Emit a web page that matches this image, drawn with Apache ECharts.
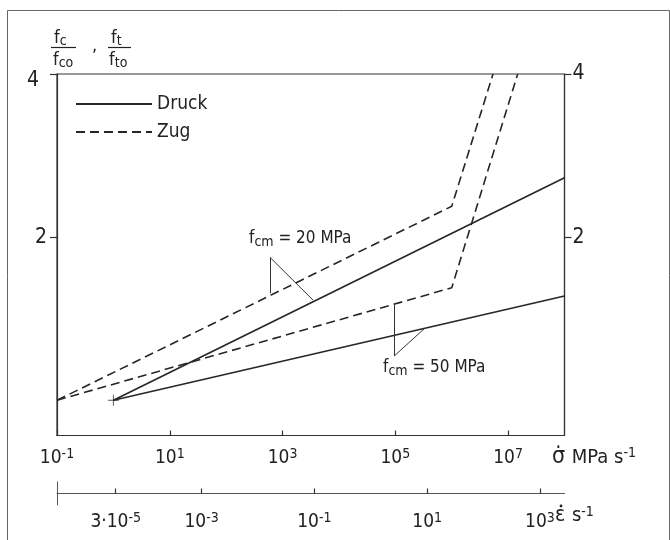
<!DOCTYPE html>
<html><head><meta charset="utf-8">
<script src="https://cdn.jsdelivr.net/npm/echarts@6/dist/echarts.min.js"></script>
<style>html,body{margin:0;padding:0;background:#fff}#c{width:670px;height:540px}</style>
</head><body><div id="c"></div>
<script>
const FONT = "'Liberation Sans Narrow','DejaVu Sans Condensed','Roboto Condensed','Noto Sans',sans-serif";
const INK = '#222';

// stress rate (MPa/s) vs strength ratio f/f0
const druck20 = [[1, 1], [1e8, 2.575]];
const druck50 = [[1, 1], [1e8, 1.558]];
const zug20 = [[0.1, 1], [1e6, 2.28], [5.4e6, 4]];
const zug50 = [[0.1, 1], [1e6, 1.613], [1.48e7, 4]];
const startMark = [[1, 1]];

// tick values
const stressTicks = [0.1, 10, 1e3, 1e5, 1e7];
const strainTicks = [3e-5, 1e-3, 1e-1, 10, 1e3];
const ratioTicks = [2, 4];
const E_MOD = 3.67e4; // stress rate / strain rate relation of the two scales

// annotation leaders (data coordinates)
const leader20 = [[[600, 1.835], [600, 1.576]], [[600, 1.835], [3483, 1.53]]];
const leader50 = [[[95500, 1.504], [95500, 1.207]], [[95500, 1.207], [330000, 1.357]]];

function powLabel(v) {
  const e = Math.round(Math.log10(v));
  const m = v / Math.pow(10, e);
  const mant = Math.abs(m - 1) < 1e-6 ? '' : (Math.round(m * 10) / 10) + '·';
  return '{b|' + mant + '10}{s|' + e + '}';
}
const supRich = {
  b: {fontFamily: FONT, fontSize: 19, color: INK},
  s: {fontFamily: FONT, fontSize: 14, color: INK, padding: [0, 0, 8, 0]}
};

function mkLeader(segs) {
  return segs.map(s => [{coord: s[0]}, {coord: s[1]}]);
}
function fracPart(main, sub) {
  return {text: '{f|' + main + '}{sub|' + sub + '}', rich: {
    f: {fontFamily: FONT, fontSize: 18, fill: INK},
    sub: {fontFamily: FONT, fontSize: 14, fill: INK, padding: [7, 0, 0, 0]}}};
}
function annot(val) {
  return {text: '{f|f}{sub|cm}{t| = ' + val + ' MPa}', rich: {
    f: {fontFamily: FONT, fontSize: 17, fill: INK},
    t: {fontFamily: FONT, fontSize: 17, fill: INK},
    sub: {fontFamily: FONT, fontSize: 14, fill: INK, padding: [7, 0, 0, 0]}}};
}

const lineStyleS = {color: '#262626', width: 1.6, type: 'solid'};
const lineStyleD = {color: '#262626', width: 1.6, type: [9, 5]};
const leaderStyle = {color: '#333', width: 1, type: 'solid'};

const chart = echarts.init(document.getElementById('c'), null, {renderer: 'canvas'});
const option = {
  animation: false,
  backgroundColor: '#fff',
  grid: [
    {left: 57, right: 105.5, top: 74, bottom: 104.5, show: true, borderColor: '#333', borderWidth: 1.2, backgroundColor: 'transparent'},
    {left: 57, right: 105.5, top: 482, height: 23}
  ],
  legend: {
    data: ['Druck', 'Zug'], orient: 'vertical', left: 70, top: 87,
    itemWidth: 76, itemHeight: 14, itemGap: 4, selectedMode: false,
    itemStyle: {color: 'rgba(0,0,0,0)', borderWidth: 0},
    textStyle: {fontFamily: FONT, fontSize: 19, color: INK, lineHeight: 24}
  },
  xAxis: [
    {
      type: 'log', logBase: 10, gridIndex: 0, min: 0.1, max: 1e8,
      axisLine: {lineStyle: {color: '#333', width: 1.2}},
      axisTick: {inside: true, length: 5, customValues: stressTicks, lineStyle: {color: '#333', width: 1.2}},
      axisLabel: {customValues: stressTicks, margin: 12, formatter: powLabel, rich: supRich},
      splitLine: {show: false}, minorTick: {show: false}
    },
    {
      type: 'log', logBase: 10, gridIndex: 1, min: 0.1 / E_MOD, max: 1e8 / E_MOD,
      axisLine: {onZero: true, lineStyle: {color: '#555', width: 1}},
      axisTick: {inside: true, length: 5, customValues: strainTicks, lineStyle: {color: '#333', width: 1.2}},
      axisLabel: {customValues: strainTicks, margin: 6, formatter: powLabel, rich: supRich},
      splitLine: {show: false}, minorTick: {show: false}
    }
  ],
  yAxis: [
    {
      type: 'log', logBase: 2, gridIndex: 0, min: 0.861, max: 4, position: 'left',
      axisLine: {show: true, lineStyle: {color: '#333', width: 1.2}},
      axisTick: {show: true, length: 7, customValues: ratioTicks, lineStyle: {color: '#333', width: 1.2}},
      axisLabel: {customValues: ratioTicks, margin: 10, fontFamily: FONT, fontSize: 21, color: INK,
        formatter: v => v === 4 ? '{lo|4}' : String(v),
        rich: {lo: {fontFamily: FONT, fontSize: 21, color: INK, padding: [14, 8, 0, 0]}}},
      splitLine: {show: false}, minorTick: {show: false}
    },
    {
      type: 'log', logBase: 2, gridIndex: 0, min: 0.861, max: 4, position: 'right',
      axisLine: {show: true, lineStyle: {color: '#333', width: 1.2}},
      axisTick: {show: true, length: 7, customValues: ratioTicks, lineStyle: {color: '#333', width: 1.2}},
      axisLabel: {customValues: ratioTicks, margin: 8, fontFamily: FONT, fontSize: 21, color: INK},
      splitLine: {show: false}, minorTick: {show: false}
    },
    {
      type: 'value', gridIndex: 1, min: -1, max: 1,
      axisLine: {show: true, onZero: false, lineStyle: {color: '#555', width: 1}},
      axisTick: {show: false}, axisLabel: {show: false}, splitLine: {show: false}
    }
  ],
  series: [
    {type: 'line', name: 'Druck', data: druck20, symbol: 'none', lineStyle: lineStyleS, itemStyle: {color: '#262626'}, silent: true,
      markLine: {silent: true, symbol: 'none', label: {show: false}, lineStyle: leaderStyle, data: mkLeader(leader20)}},
    {type: 'line', name: 'Druck', data: druck50, symbol: 'none', lineStyle: lineStyleS, itemStyle: {color: '#262626'}, silent: true,
      markLine: {silent: true, symbol: 'none', label: {show: false}, lineStyle: leaderStyle, data: mkLeader(leader50)}},
    {type: 'line', name: 'Zug', data: zug20, symbol: 'none', lineStyle: lineStyleD, itemStyle: {color: '#262626'}, silent: true},
    {type: 'line', name: 'Zug', data: zug50, symbol: 'none', lineStyle: lineStyleD, itemStyle: {color: '#262626'}, silent: true},
    {type: 'scatter', name: 'start', data: startMark, symbol: 'path://M0,5L10,5M5,0L5,10', symbolSize: 11,
      itemStyle: {color: 'none', borderColor: '#333', borderWidth: 1}, silent: true}
  ],
  graphic: [
    {type: 'rect', shape: {x: 7.5, y: 10.5, width: 662, height: 545}, style: {fill: 'none', stroke: '#666', lineWidth: 1}, silent: true},
    // y-axis title (fractions)
    {type: 'text', left: 54, top: 29, style: fracPart('f', 'c')},
    {type: 'line', shape: {x1: 51, y1: 47.5, x2: 76, y2: 47.5}, style: {stroke: INK, lineWidth: 1.2}},
    {type: 'text', left: 53, top: 51, style: fracPart('f', 'co')},
    {type: 'text', left: 92, top: 37, style: {text: ',', fontFamily: FONT, fontSize: 18, fill: INK}},
    {type: 'text', left: 111, top: 29, style: fracPart('f', 't')},
    {type: 'line', shape: {x1: 108, y1: 47.5, x2: 131, y2: 47.5}, style: {stroke: INK, lineWidth: 1.2}},
    {type: 'text', left: 109, top: 51, style: fracPart('f', 'to')},
    // annotations
    {type: 'text', left: 249, top: 230, style: annot(20)},
    {type: 'text', left: 383, top: 359, style: annot(50)},
    // axis names
    {type: 'text', left: 552, top: 446, style: {text: '{g|\u03C3\u0307}  {t|MPa s}{s|-1}', rich: {
      g: {fontFamily: FONT, fontSize: 23, fill: INK}, t: {fontFamily: FONT, fontSize: 20, fill: INK},
      s: {fontFamily: FONT, fontSize: 14, fill: INK, padding: [0, 0, 8, 0]}}}},
    {type: 'text', left: 555, top: 505, style: {text: '{g|\u03B5}  {t|s}{s|-1}', rich: {
      g: {fontFamily: FONT, fontSize: 21, fill: INK}, t: {fontFamily: FONT, fontSize: 20, fill: INK},
      s: {fontFamily: FONT, fontSize: 14, fill: INK, padding: [0, 0, 8, 0]}}}},
    {type: 'circle', shape: {cx: 561, cy: 506, r: 1.4}, style: {fill: INK}}
  ]
};
chart.setOption(option);
</script>
</body></html>
